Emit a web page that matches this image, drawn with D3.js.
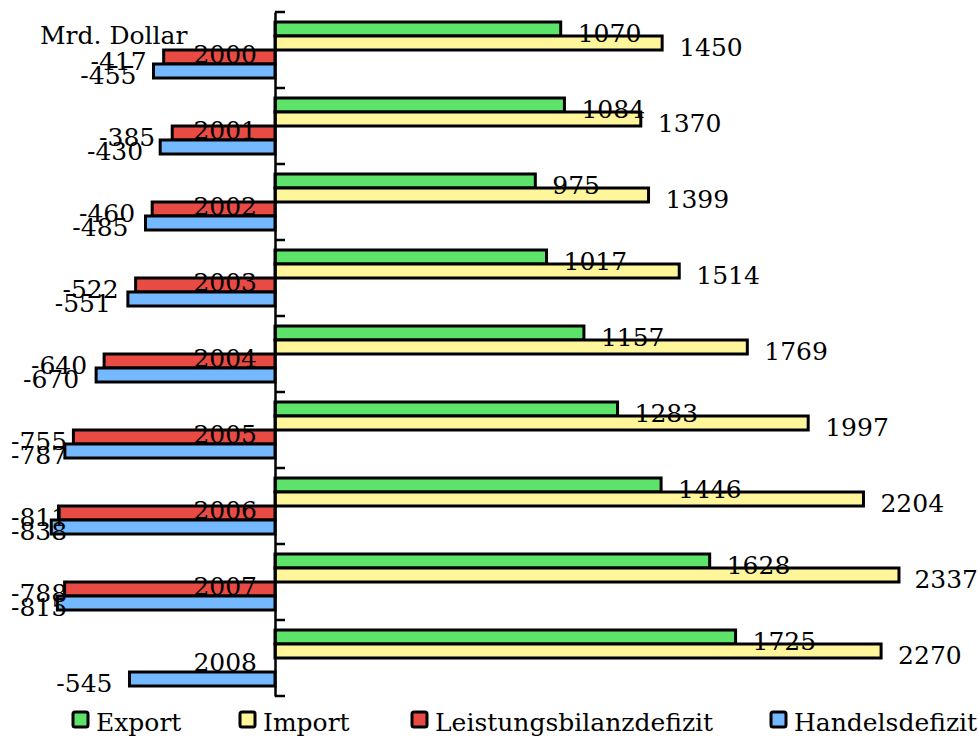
<!DOCTYPE html>
<html>
<head>
<meta charset="utf-8">
<script src="https://cdn.jsdelivr.net/npm/d3@7"></script>
<style>
  html, body { margin: 0; padding: 0; background: #ffffff; }
  svg { display: block; }
  text { font-family: "DejaVu Serif", "Liberation Serif", serif; font-size: 25px; fill: #000; }
</style>
</head>
<body>
<svg id="chart" width="979" height="738"></svg>
<script>
const years = ["2000","2001","2002","2003","2004","2005","2006","2007","2008"];
const seriesNames = ["Export","Import","Leistungsbilanzdefizit","Handelsdefizit"];
const exportVals = [1070,1084,975,1017,1157,1283,1446,1628,1725];
const importVals = [1450,1370,1399,1514,1769,1997,2204,2337,2270];
const leistungVals = [-417,-385,-460,-522,-640,-755,-811,-788,null];
const handelVals = [-455,-430,-485,-551,-670,-787,-838,-815,-545];
const seriesColors = ["#5ee36a","#fff59a","#e84a44","#74b9ff"];
const unitLabel = "Mrd. Dollar";

const seriesValues = [exportVals, importVals, leistungVals, handelVals];

const svg = d3.select("#chart");
const W = 979;

const x = d3.scaleLinear().domain([-1000, 2600]).range([8, 8 + 3600 * 0.267]);
const y = d3.scaleBand().domain(years).range([12, 696]);
const inner = d3.scaleBand().domain(seriesNames).range([10, 66]);

// bars
const gBars = svg.append("g");
seriesNames.forEach((s, si) => {
  const data = years.map((yr, i) => ({yr, v: seriesValues[si][i]})).filter(d => d.v !== null);
  gBars.selectAll(null).data(data).enter().append("rect")
    .attr("x", d => Math.min(x(0), x(d.v)))
    .attr("y", d => y(d.yr) + inner(s))
    .attr("width", d => Math.abs(x(d.v) - x(0)))
    .attr("height", inner.bandwidth())
    .attr("fill", seriesColors[si])
    .attr("stroke", "#000")
    .attr("stroke-width", 3);
});

// axis
const axis = d3.axisRight(y).tickSizeInner(0).tickSizeOuter(0).tickFormat("");
const gAxis = svg.append("g").attr("transform", `translate(${x(0)},0)`).call(axis);
gAxis.select(".domain").attr("stroke", "#000").attr("stroke-width", 2.5);
// ticks at band boundaries
const boundaries = years.map(yr => y(yr)).concat([y(years[years.length - 1]) + y.bandwidth()]);
gAxis.selectAll(".bt").data(boundaries).enter().append("line")
  .attr("x1", 0).attr("x2", 10).attr("y1", d => d).attr("y2", d => d)
  .attr("stroke", "#000").attr("stroke-width", 2.5);

// category labels
svg.append("g").selectAll("text").data(years).enter().append("text")
  .attr("x", x(0) - 18)
  .attr("y", d => y(d) + y.bandwidth() / 2 + 13)
  .attr("text-anchor", "end")
  .text(d => d);

// value labels
const gLab = svg.append("g");
seriesNames.forEach((s, si) => {
  const data = years.map((yr, i) => ({yr, v: seriesValues[si][i]})).filter(d => d.v !== null);
  gLab.selectAll(null).data(data).enter().append("text")
    .attr("y", d => y(d.yr) + inner(s) + inner.bandwidth() / 2 + 13)
    .text(d => d.v)
    .each(function(d) {
      const t = d3.select(this);
      const w = this.getComputedTextLength();
      if (d.v >= 0) {
        let sx = x(d.v) + 17;
        if (sx + w > W - 1) sx = W - 1 - w;
        t.attr("x", sx);
      } else {
        let sx = x(d.v) - 17 - w;
        if (sx < 11) sx = 11;
        t.attr("x", sx);
      }
    });
});

// unit label
svg.append("text").attr("x", 40).attr("y", 44).text(unitLabel);

// legend
const legX = [73, 240, 412, 771];
const gLeg = svg.append("g");
seriesNames.forEach((s, si) => {
  gLeg.append("rect")
    .attr("x", legX[si]).attr("y", 712).attr("width", 15).attr("height", 15)
    .attr("rx", 2)
    .attr("fill", seriesColors[si]).attr("stroke", "#000").attr("stroke-width", 3);
  gLeg.append("text").attr("x", legX[si] + 23).attr("y", 731).text(s);
});
</script>
</body>
</html>
